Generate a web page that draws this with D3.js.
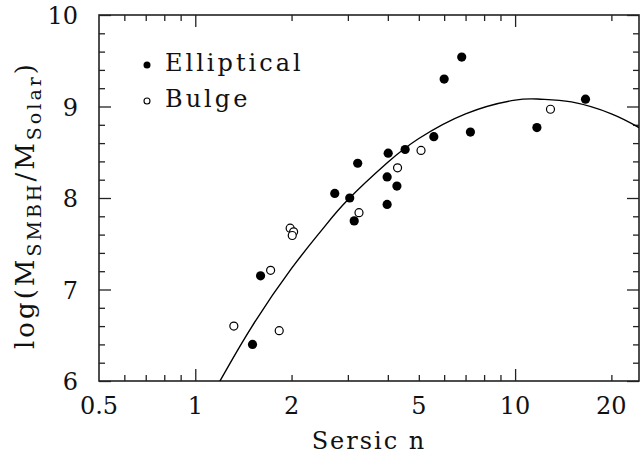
<!DOCTYPE html>
<html>
<head>
<meta charset="utf-8">
<script src="https://cdn.jsdelivr.net/npm/d3@7"></script>
<style>
  body { margin: 0; background: #fff; }
  text { font-family: "DejaVu Serif", serif; fill: #111; }
</style>
</head>
<body>
<script>
// elliptical galaxies (filled)
var ellN    = [6.81, 6.00, 16.6, 11.7, 7.25, 5.57, 4.53, 4.01, 3.22, 3.98, 4.27, 2.73, 3.04, 3.98, 3.14, 1.60, 1.51];
var ellLogM = [9.54, 9.30, 9.08, 8.77, 8.72, 8.67, 8.53, 8.49, 8.38, 8.23, 8.13, 8.05, 8.00, 7.93, 7.75, 7.15, 6.40];
// bulges (open)
var bulN    = [12.9, 5.08, 4.29, 3.25, 1.98, 2.03, 2.01, 1.72, 1.32, 1.83];
var bulLogM = [8.97, 8.52, 8.33, 7.84, 7.67, 7.63, 7.59, 7.21, 6.60, 6.55];
// fitted curve
var curveN    = [1.19, 1.5, 2, 2.5, 3, 4, 5, 7, 10, 12, 15, 20, 24.4];
var curveLogM = [5.99, 6.59, 7.23, 7.66, 7.98, 8.39, 8.65, 8.92, 9.07, 9.08, 9.05, 8.92, 8.77];

var xLabels = [0.5, 1, 2, 5, 10, 20];
var xMajor = [1, 10];
var xMinor = [0.6, 0.7, 0.8, 0.9, 2, 3, 4, 5, 6, 7, 8, 9, 20];
var yLabels = [6, 7, 8, 9, 10];

var width = 641, height = 460;
var margin = {left: 99, right: 2, top: 15, bottom: 79};
var x0 = margin.left, x1 = width - margin.right;
var y0 = height - margin.bottom, y1 = margin.top;

var x = d3.scaleLog().domain([0.5, 24.4]).range([x0, x1]);
var y = d3.scaleLinear().domain([6, 10]).range([y0, y1]);

var svg = d3.select("body").append("svg").attr("width", width).attr("height", height);

svg.append("clipPath").attr("id", "clip")
  .append("rect").attr("x", x0).attr("y", y1).attr("width", x1 - x0).attr("height", y0 - y1);

var yMinor = d3.range(6, 10.001, 0.2).filter(function(v){ return Math.abs(v - Math.round(v)) > 1e-6; });

function addAxis(axis, tx, ty) {
  var g = svg.append("g").attr("transform", "translate(" + tx + "," + ty + ")").call(axis);
  g.select(".domain").remove();
  g.selectAll("line").attr("stroke", "#222").attr("stroke-width", 1.3);
  g.selectAll("text").remove();
  return g;
}
// inward ticks on all four sides
addAxis(d3.axisBottom(x).tickValues(xMajor).tickSize(-12), 0, y0);
addAxis(d3.axisBottom(x).tickValues(xMinor).tickSize(-6), 0, y0);
addAxis(d3.axisTop(x).tickValues(xMajor).tickSize(-12), 0, y1);
addAxis(d3.axisTop(x).tickValues(xMinor).tickSize(-6), 0, y1);
addAxis(d3.axisLeft(y).tickValues(yLabels).tickSize(-12), x0, 0);
addAxis(d3.axisLeft(y).tickValues(yMinor).tickSize(-6), x0, 0);
addAxis(d3.axisRight(y).tickValues(yLabels).tickSize(-12), x1, 0);
addAxis(d3.axisRight(y).tickValues(yMinor).tickSize(-6), x1, 0);

svg.append("rect").attr("x", x0).attr("y", y1).attr("width", x1 - x0).attr("height", y0 - y1)
  .attr("fill", "none").attr("stroke", "#222").attr("stroke-width", 1.6);

// tick labels
svg.selectAll(".xl").data(xLabels).enter().append("text")
  .attr("x", function(d){ return x(d); }).attr("y", y0 + 33)
  .attr("text-anchor", "middle").attr("font-size", 24).text(function(d){ return d; });
svg.selectAll(".yl").data(yLabels).enter().append("text")
  .attr("x", x0 - 21).attr("y", function(d){ return y(d) + 9; })
  .attr("text-anchor", "end").attr("font-size", 24).text(function(d){ return d; });

// axis titles
svg.append("text").attr("x", (x0 + x1) / 2).attr("y", 449)
  .attr("text-anchor", "middle").attr("font-size", 24).attr("letter-spacing", 2)
  .text("Sersic n");

var yt = svg.append("text").attr("transform", "translate(34,205) rotate(-90)")
  .attr("text-anchor", "middle").attr("font-size", 26).attr("letter-spacing", 3);
yt.append("tspan").text("log(M");
yt.append("tspan").attr("font-size", 19).attr("dy", 7).text("SMBH");
yt.append("tspan").attr("dy", -7).text("/M");
yt.append("tspan").attr("font-size", 19).attr("dy", 7).text("Solar");
yt.append("tspan").attr("dy", -7).text(")");

// fitted curve
var line = d3.line()
  .x(function(d, i){ return x(curveN[i]); })
  .y(function(d, i){ return y(curveLogM[i]); })
  .curve(d3.curveNatural);
svg.append("path").attr("d", line(curveN)).attr("clip-path", "url(#clip)")
  .attr("fill", "none").attr("stroke", "#000").attr("stroke-width", 1.4);

// points
svg.selectAll(".ell").data(ellN).enter().append("circle")
  .attr("cx", function(d){ return x(d); })
  .attr("cy", function(d, i){ return y(ellLogM[i]); })
  .attr("r", 4.6).attr("fill", "#000");
svg.selectAll(".bul").data(bulN).enter().append("circle")
  .attr("cx", function(d){ return x(d); })
  .attr("cy", function(d, i){ return y(bulLogM[i]); })
  .attr("r", 4).attr("fill", "#fff").attr("stroke", "#000").attr("stroke-width", 1.2);

// legend
svg.append("circle").attr("cx", 147).attr("cy", 65).attr("r", 3.5).attr("fill", "#000");
svg.append("circle").attr("cx", 147).attr("cy", 101).attr("r", 3).attr("fill", "#fff")
  .attr("stroke", "#000").attr("stroke-width", 1.1);
svg.append("text").attr("x", 165).attr("y", 71).attr("font-size", 24).attr("letter-spacing", 3)
  .text("Elliptical");
svg.append("text").attr("x", 165).attr("y", 107).attr("font-size", 24).attr("letter-spacing", 3)
  .text("Bulge");
</script>
</body>
</html>
